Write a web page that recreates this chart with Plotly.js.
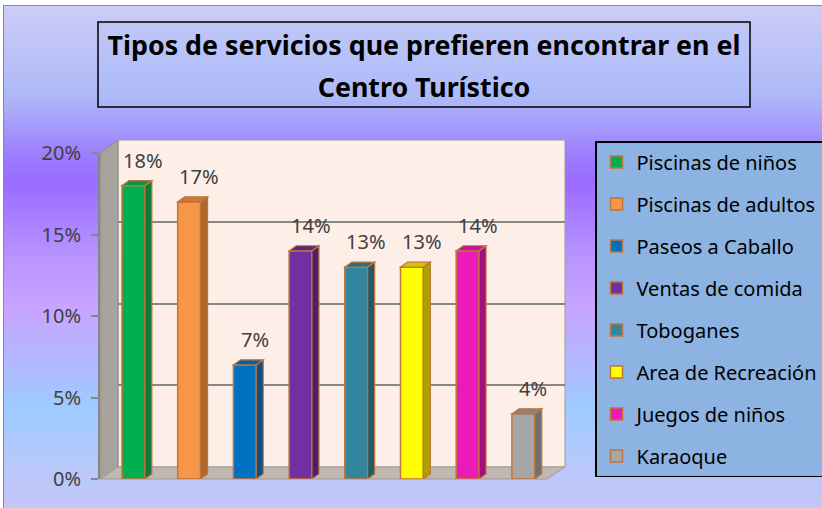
<!DOCTYPE html>
<html>
<head>
<meta charset="utf-8">
<script src="https://cdn.plot.ly/plotly-3.0.1.min.js"></script>
<style>
  html, body { margin:0; padding:0; background:#ffffff; width:822px; height:508px; overflow:hidden; }
  #bg { position:absolute; left:3px; top:5px; right:0; bottom:0;
        border-top:1.5px solid #8a8a8a; border-left:1.5px solid #8a8a8a;
        background: linear-gradient(to bottom, #cccdf6 0%, #aeb8f8 18%, #9d7cfd 30%, #9a6bff 35%, #b894ff 50%, #c8a4ff 60%, #a9c0ff 75%, #9ecbff 80%, #b9c8fb 92%, #c4c6f7 100%); }
  #chart { position:absolute; left:0; top:0; width:822px; height:508px; }
</style>
</head>
<body>
<div id="bg"></div>
<div id="chart"></div>
<script>
// ---- data ----
const categories = ["Piscinas de niños", "Piscinas de adultos", "Paseos a Caballo", "Ventas de comida",
                    "Toboganes", "Area de Recreación", "Juegos de niños", "Karaoque"];
const values = [0.18, 0.17, 0.07, 0.14, 0.13, 0.13, 0.14, 0.04];
const frontColors = ["#00B050", "#F79646", "#0070C0", "#7030A0", "#31859C", "#FFFF00", "#EA1BB9", "#A6A6A6"];
const sideColors  = ["#0E7A3C", "#B0662C", "#0D4F86", "#4B1F6B", "#215A69", "#A9A200", "#A0107D", "#707070"];
const topColors   = ["#0A9443", "#C9773A", "#0A5EA0", "#5C2686", "#287083", "#CFC900", "#C4139A", "#858585"];
const yTicks = [0, 0.05, 0.10, 0.15, 0.20];
const titleLines = ["Tipos de servicios que prefieren encontrar en el", "Centro Turístico"];

// ---- geometry helpers (pixels -> paper) ----
const W = 822, H = 508;
const X = px => px / W;
const Y = py => 1 - py / H;
const outline = "#C0763A";
const barWidth = 0.41;
const depthX = 0.126;    // in category units
const depthY = 0.0031;   // in value units

const traces = [];
// invisible trace for the back wall subplot
traces.push({type:"scatter", x:[], y:[], xaxis:"x", yaxis:"y", showlegend:false, hoverinfo:"skip"});
categories.forEach((c, i) => {
  traces.push({
    type: "bar", name: c, x: [i], y: [values[i]], width: barWidth,
    xaxis: "x2", yaxis: "y2", legendgroup: "g" + i,
    marker: {color: frontColors[i], line: {color: outline, width: 1.5}},
    hoverinfo: "name+y"
  });
});

const shapes = [
  // back wall
  {type:"rect", xref:"x domain", yref:"y domain", x0:0, x1:1, y0:0, y1:1, layer:"below",
   fillcolor:"#FDEFE7", line:{color:"#9a9a9a", width:1}},
  // left wall
  {type:"path", xref:"paper", yref:"paper", layer:"below",
   path:`M${X(100)},${Y(479)} L${X(100)},${Y(153)} L${X(118)},${Y(140)} L${X(118)},${Y(467)} Z`,
   fillcolor:"#A8A29D", line:{color:"#8c8c8c", width:1}},
  // floor
  {type:"path", xref:"paper", yref:"paper", layer:"below",
   path:`M${X(100)},${Y(479)} L${X(118)},${Y(467)} L${X(565)},${Y(467)} L${X(547)},${Y(479)} Z`,
   fillcolor:"#C2B8B1", line:{color:"#9a9a9a", width:1}},
  // title box
  {type:"rect", xref:"paper", yref:"paper", x0:X(98), x1:X(750), y0:Y(107), y1:Y(22),
   line:{color:"#000000", width:1.5}, fillcolor:"rgba(170,195,250,0.25)", layer:"below"}
];
// 3D side and top faces of bars, derived from the data
values.forEach((v, i) => {
  const x0 = i - barWidth / 2, x1 = i + barWidth / 2;
  shapes.push({type:"path", xref:"x2", yref:"y2", layer:"above",
    path:`M${x1},0 L${x1},${v} L${x1 + depthX},${v + depthY} L${x1 + depthX},${depthY} Z`,
    fillcolor: sideColors[i], line:{color: outline, width:1.2}});
  shapes.push({type:"path", xref:"x2", yref:"y2", layer:"above",
    path:`M${x0},${v} L${x1},${v} L${x1 + depthX},${v + depthY} L${x0 + depthX},${v + depthY} Z`,
    fillcolor: topColors[i], line:{color: outline, width:1.2}});
});

const annotations = values.map((v, i) => ({
  x: i, y: v, xref:"x2", yref:"y2", text: Math.round(v * 100) + "%",
  showarrow:false, yanchor:"bottom", xanchor:"center", xshift:10, yshift:10,
  font:{family:"Noto Sans", size:20, color:"#404040"}
}));

const layout = {
  width: W, height: H,
  margin: {l:0, r:0, t:0, b:0, autoexpand:false},
  paper_bgcolor: "rgba(0,0,0,0)",
  plot_bgcolor: "rgba(0,0,0,0)",
  font: {family:"Noto Sans", color:"#404040"},
  title: {
    text: titleLines.map(t => "<span style='font-size:26.8px'>" + t + "</span>").join("<br>"),
    font: {family:"Noto Sans", size:32, weight:"bold", color:"#000000"},
    x: X(424), xanchor:"center", xref:"paper",
    y: Y(55), yanchor:"middle", yref:"container"
  },
  barmode: "overlay",
  showlegend: true,
  legend: {
    x: X(595), y: Y(141), xanchor:"left", yanchor:"top",
    bgcolor:"#8DB3E2", bordercolor:"#000000", borderwidth:1.5,
    font:{family:"Noto Sans", size:20, color:"#000000"},
    tracegroupgap: 13, traceorder:"grouped"
  },
  xaxis: {domain:[X(118), X(565)], range:[0, 1], visible:false, fixedrange:true},
  yaxis: {domain:[Y(467), Y(140)], range:[0, 0.2], dtick:0.05, showgrid:true,
          gridcolor:"#878787", gridwidth:2, showticklabels:false, zeroline:false,
          showline:false, ticks:"", anchor:"x", fixedrange:true},
  xaxis2: {domain:[X(100), X(545.6)], range:[-0.6, 7.4], anchor:"y2",
           showticklabels:false, showgrid:false, zeroline:false, showline:false, ticks:"", fixedrange:true},
  yaxis2: {domain:[Y(479), Y(153)], range:[0, 0.2], anchor:"x2",
           tickvals: yTicks, tickformat:".0%", showgrid:false, zeroline:false,
           showline:true, linecolor:"#878787", linewidth:2,
           ticks:"outside", ticklen:7, tickcolor:"#878787", tickwidth:2,
           tickfont:{family:"Noto Sans", size:20, color:"#404040"}, ticklabelstandoff:6, fixedrange:true},
  shapes: shapes,
  annotations: annotations
};

Plotly.newPlot("chart", traces, layout, {displayModeBar:false, staticPlot:true});
</script>
</body>
</html>
